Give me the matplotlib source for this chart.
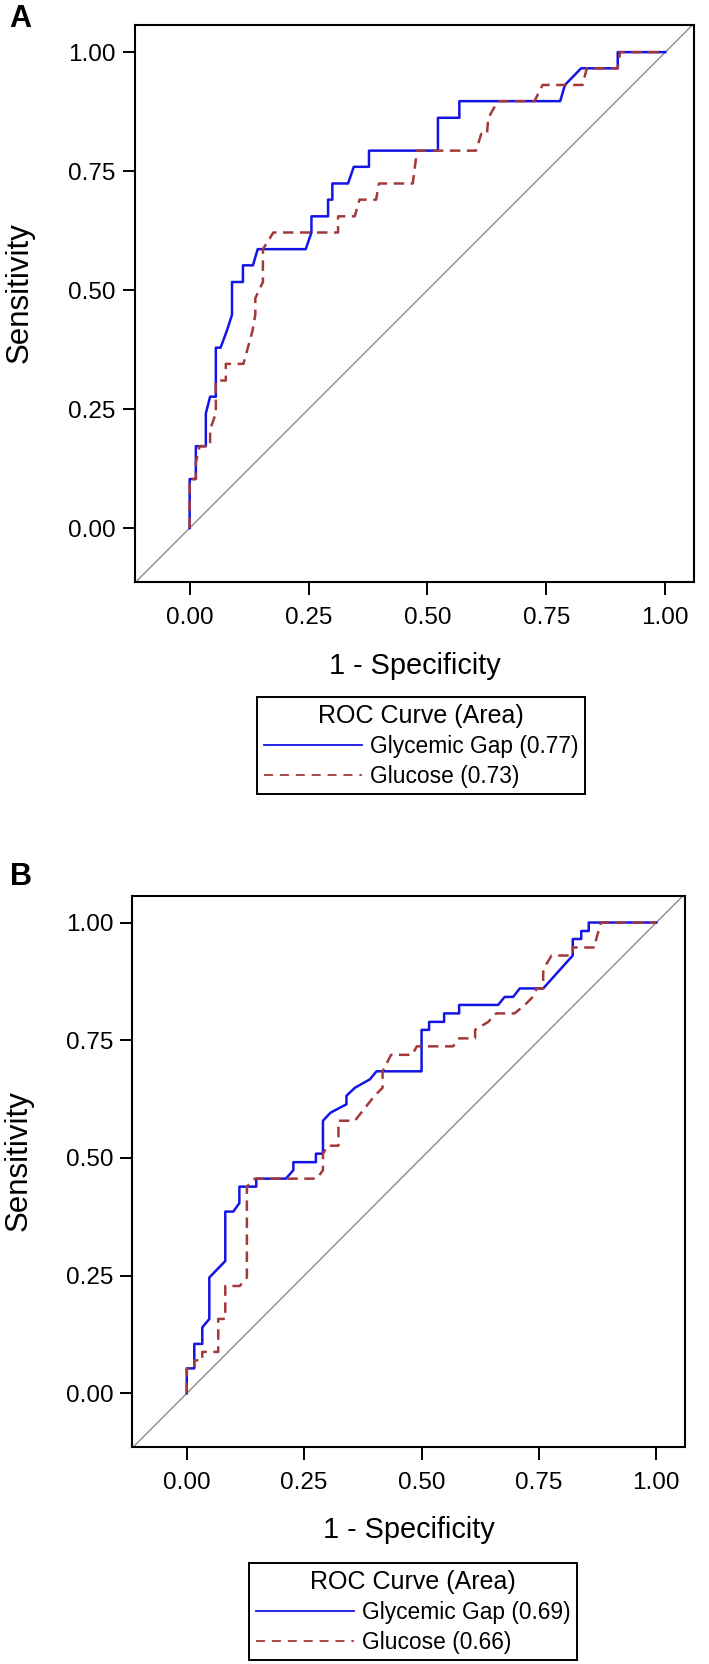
import matplotlib
matplotlib.use('Agg')
import matplotlib.pyplot as plt
from matplotlib.lines import Line2D

plt.rcParams['font.family'] = ['Liberation Sans', 'DejaVu Sans']

# ---------------- data ----------------
panel_labels = ['A', 'B']
series_names = ['Glycemic Gap', 'Glucose']
auc_a = [0.77, 0.73]
auc_b = [0.69, 0.66]
tick_values = [0.0, 0.25, 0.5, 0.75, 1.0]
tick_labels = ['0.00', '0.25', '0.50', '0.75', '1.00']

gap_a_fpr = [0, 0, 0.013, 0.013, 0.034, 0.034, 0.043, 0.055, 0.055, 0.065,
             0.078, 0.089, 0.089, 0.112, 0.112, 0.133, 0.143, 0.244, 0.256, 0.256,
             0.291, 0.291, 0.300, 0.300, 0.333, 0.345, 0.377, 0.377, 0.522, 0.522,
             0.567, 0.567, 0.779, 0.789, 0.823, 0.900, 0.900, 1.0]
gap_a_tpr = [0, 0.103, 0.103, 0.172, 0.172, 0.241, 0.276, 0.276, 0.379, 0.379,
             0.414, 0.448, 0.517, 0.517, 0.552, 0.552, 0.586, 0.586, 0.621, 0.655,
             0.655, 0.690, 0.690, 0.724, 0.724, 0.759, 0.759, 0.793, 0.793, 0.862,
             0.862, 0.897, 0.897, 0.931, 0.966, 0.966, 1.0, 1.0]

glu_a_fpr = [0, 0, 0.013, 0.013, 0.021, 0.043, 0.043, 0.055, 0.055, 0.076,
             0.076, 0.113, 0.132, 0.138, 0.138, 0.154, 0.154, 0.176, 0.312, 0.312,
             0.347, 0.357, 0.392, 0.398, 0.469, 0.478, 0.602, 0.613, 0.625, 0.628,
             0.648, 0.725, 0.742, 0.826, 0.835, 0.900, 0.905, 1.0]
glu_a_tpr = [0, 0.103, 0.103, 0.138, 0.172, 0.172, 0.207, 0.241, 0.310, 0.310,
             0.345, 0.345, 0.414, 0.448, 0.483, 0.517, 0.586, 0.621, 0.621, 0.655,
             0.655, 0.690, 0.690, 0.724, 0.724, 0.793, 0.793, 0.828, 0.828, 0.862,
             0.897, 0.897, 0.931, 0.931, 0.966, 0.966, 1.0, 1.0]

gap_b_fpr = [0, 0, 0.016, 0.016, 0.033, 0.033, 0.048, 0.048, 0.082, 0.082,
             0.099, 0.112, 0.112, 0.148, 0.148, 0.211, 0.227, 0.227, 0.275, 0.275,
             0.290, 0.290, 0.306, 0.340, 0.340, 0.358, 0.390, 0.404, 0.500, 0.500,
             0.516, 0.516, 0.548, 0.548, 0.580, 0.580, 0.663, 0.677, 0.695, 0.709,
             0.759, 0.822, 0.822, 0.840, 0.840, 0.856, 0.856, 1.0]
gap_b_tpr = [0, 0.053, 0.053, 0.105, 0.105, 0.140, 0.158, 0.246, 0.281, 0.386,
             0.386, 0.404, 0.439, 0.439, 0.456, 0.456, 0.474, 0.491, 0.491, 0.509,
             0.509, 0.579, 0.596, 0.614, 0.632, 0.649, 0.667, 0.684, 0.684, 0.772,
             0.772, 0.789, 0.789, 0.807, 0.807, 0.825, 0.825, 0.842, 0.842, 0.860,
             0.860, 0.930, 0.965, 0.965, 0.982, 0.982, 1.0, 1.0]

glu_b_fpr = [0, 0, 0.016, 0.016, 0.033, 0.033, 0.067, 0.067, 0.082, 0.082,
             0.113, 0.128, 0.128, 0.145, 0.277, 0.290, 0.290, 0.300, 0.323, 0.323,
             0.358, 0.400, 0.417, 0.417, 0.435, 0.480, 0.490, 0.567, 0.580, 0.614,
             0.614, 0.642, 0.659, 0.698, 0.720, 0.737, 0.745, 0.759, 0.759, 0.766,
             0.777, 0.822, 0.822, 0.869, 0.872, 0.882, 1.0]
glu_b_tpr = [0, 0.053, 0.053, 0.070, 0.070, 0.088, 0.088, 0.158, 0.158, 0.228,
             0.228, 0.246, 0.439, 0.456, 0.456, 0.474, 0.509, 0.526, 0.526, 0.579,
             0.579, 0.632, 0.649, 0.684, 0.719, 0.719, 0.737, 0.737, 0.754, 0.754,
             0.772, 0.789, 0.807, 0.807, 0.825, 0.842, 0.860, 0.860, 0.895, 0.912,
             0.930, 0.930, 0.947, 0.947, 0.965, 1.0, 1.0]

# ---------------- style ----------------
BLUE = '#1414E6'
RED = '#A33A3A'
GRAY = '#8C8C8C'
DASH = (0, (4.2, 2.6))

W, H = 709, 1664
fig = plt.figure(figsize=(W / 100, H / 100), dpi=100)


def px_rect(left, top, right, bottom):
    return [left / W, 1 - bottom / H, (right - left) / W, (bottom - top) / H]


panels = [
    dict(rect=px_rect(134.5, 25, 694.3, 582.3), letter_xy=(20, 19),
         curves=[(gap_a_fpr, gap_a_tpr), (glu_a_fpr, glu_a_tpr)], auc=auc_a,
         leg_xy=(421, 697)),
    dict(rect=px_rect(132.3, 895.7, 685.0, 1447.0), letter_xy=(21, 877),
         curves=[(gap_b_fpr, gap_b_tpr), (glu_b_fpr, glu_b_tpr)], auc=auc_b,
         leg_xy=(413, 1563)),
]

for letter, p in zip(panel_labels, panels):
    ax = fig.add_axes(p['rect'])
    ax.set_xlim(-0.116, 1.061)
    ax.set_ylim(-0.114, 1.057)
    ax.axline((0, 0), (1, 1), color=GRAY, lw=1.0, zorder=1)
    (gx, gy), (cx, cy) = p['curves']
    ax.plot(gx, gy, color=BLUE, lw=1.8, zorder=3)
    ax.plot(cx, cy, color=RED, lw=1.8, ls=DASH, zorder=4)

    ax.set_xticks(tick_values)
    ax.set_xticklabels(tick_labels)
    ax.set_yticks(tick_values)
    ax.set_yticklabels(tick_labels)
    ax.tick_params(direction='out', length=9, width=1.4, labelsize=17.5,
                   top=False, right=False, color='black')
    ax.tick_params(axis='x', pad=9)
    ax.tick_params(axis='y', pad=4.5)
    for s in ax.spines.values():
        s.set_linewidth(1.5)
        s.set_color('black')

    ax.set_xlabel('1 - Specificity', fontsize=20.8)
    ax.xaxis.label.set_va('center')
    ax.xaxis.set_label_coords(0.5, -0.150)
    ax.set_ylabel('Sensitivity', fontsize=22.5)
    ax.yaxis.label.set_va('center')
    ax.yaxis.set_label_coords(-0.206, 0.52)

    fig.text(p['letter_xy'][0] / W, 1 - p['letter_xy'][1] / H, letter,
             fontsize=22, fontweight='bold', ha='center', va='center')

    handles = [Line2D([], [], color=BLUE, lw=1.3),
               Line2D([], [], color=RED, lw=1.3, ls=(0, (5, 3.8)))]
    labels = [f'{n} ({a:.2f})' for n, a in zip(series_names, p['auc'])]
    leg = ax.legend(handles, labels, title='ROC Curve (Area)',
                    loc='upper center',
                    bbox_to_anchor=(p['leg_xy'][0] / W, 1 - p['leg_xy'][1] / H),
                    bbox_transform=fig.transFigure,
                    fontsize=16.4, title_fontsize=18, frameon=True,
                    fancybox=False, edgecolor='black', framealpha=1,
                    handlelength=4.3, handletextpad=0.35, borderpad=0.3,
                    labelspacing=0.3, borderaxespad=0)
    leg.get_frame().set_linewidth(1.4)

fig.savefig('out.png', dpi=100)
